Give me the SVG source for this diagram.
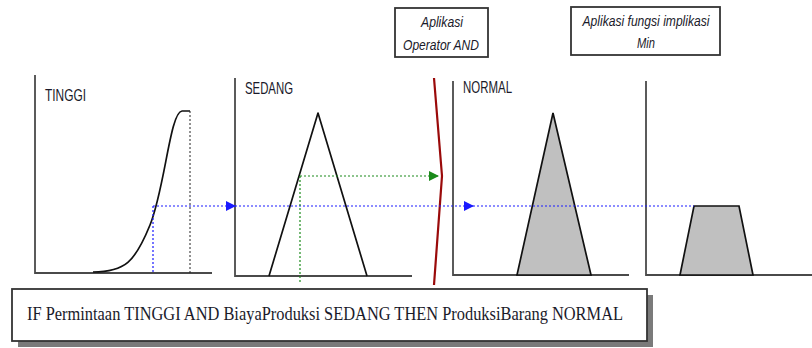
<svg xmlns="http://www.w3.org/2000/svg" width="812" height="348" viewBox="0 0 812 348">
  <defs>
    <marker id="arrowBlue" viewBox="0 0 10 10" refX="9" refY="5" markerWidth="10" markerHeight="10" markerUnits="userSpaceOnUse" orient="auto">
      <path d="M0,0 L10,5 L0,10 z" fill="#1a1aff"/>
    </marker>
    <marker id="arrowGreen" viewBox="0 0 10 10" refX="9" refY="5" markerWidth="10" markerHeight="10" markerUnits="userSpaceOnUse" orient="auto">
      <path d="M0,0 L10,5 L0,10 z" fill="#1a8a1a"/>
    </marker>
    <style>
      .axis { fill: none; stroke: #4a4a4a; stroke-width: 1.8; }
      .mf { fill: none; stroke: #111; stroke-width: 1.7; stroke-linejoin: round; }
      .mf-fill { fill: #c0c0c0; stroke: #111; stroke-width: 1.7; stroke-linejoin: miter; }
      .label { font-family: "Liberation Sans", Arial, sans-serif; font-size: 16.5px; fill: #1a1a2a; }
      .note { font-family: "Liberation Sans", Arial, sans-serif; font-size: 14.5px; font-style: italic; fill: #1a1a2a; text-anchor: middle; }
      .rule { font-family: "Liberation Serif", "Times New Roman", serif; font-size: 19px; fill: #1a1a2a; }
      .box { fill: #fff; stroke: #333; stroke-width: 1.8; }
      .blue { fill: none; stroke: #1a1aff; stroke-width: 1.2; stroke-dasharray: 2 2; }
      .green { fill: none; stroke: #1a8a1a; stroke-width: 1.2; stroke-dasharray: 2 2; }
      .guide { fill: none; stroke: #222; stroke-width: 1; stroke-dasharray: 2 2; }
    </style>
  </defs>

  <!-- Permintaan: TINGGI -->
  <g id="tinggi">
    <path class="axis" d="M35,75 L35,273 L212,273"/>
    <text class="label" x="45" y="101" textLength="41" lengthAdjust="spacingAndGlyphs">TINGGI</text>
    <path class="mf" d="M93,272 C125,272 135,262 150,225 S170,112 182,111 L190,111"/>
  </g>

  <!-- BiayaProduksi: SEDANG -->
  <g id="sedang">
    <path class="axis" d="M235,78 L235,276 L412,276"/>
    <text class="label" x="245" y="94" textLength="48" lengthAdjust="spacingAndGlyphs">SEDANG</text>
    <path class="mf" d="M269,276 L318,113 L367,276"/>
  </g>

  <!-- ProduksiBarang: NORMAL -->
  <g id="normal">
    <path class="axis" d="M453,81 L453,275 L629,275"/>
    <text class="label" x="463" y="93" textLength="49" lengthAdjust="spacingAndGlyphs">NORMAL</text>
    <path class="mf-fill" d="M517,275 L553,113 L591,275 z"/>
  </g>

  <!-- Implication result (clipped set) -->
  <g id="hasil">
    <path class="axis" d="M646,81 L646,275 L812,275"/>
    <path class="mf-fill" d="M680,275 L694,206 L739,206 L753,275 z"/>
  </g>

  <!-- AND operator divider -->
  <g id="operator-and">
    <polyline points="434,78 442,176 434,285" fill="none" stroke="#9a0a0a" stroke-width="2.2" stroke-linejoin="round"/>
  </g>

  <!-- Annotation boxes -->
  <g id="note-and">
    <rect class="box" x="395" y="8" width="93" height="49"/>
    <text class="note" x="442" y="27" textLength="42" lengthAdjust="spacingAndGlyphs">Aplikasi</text>
    <text class="note" x="441" y="50" textLength="76" lengthAdjust="spacingAndGlyphs">Operator AND</text>
  </g>
  <g id="note-min">
    <rect class="box" x="571" y="7" width="149" height="48"/>
    <text class="note" x="646" y="26" textLength="127" lengthAdjust="spacingAndGlyphs">Aplikasi fungsi implikasi</text>
    <text class="note" x="646" y="48" textLength="18" lengthAdjust="spacingAndGlyphs">Min</text>
  </g>

  <!-- Rule statement -->
  <g id="rule">
    <rect x="18" y="295" width="635" height="52" fill="#7a7a7a"/>
    <rect class="box" x="12" y="289" width="635" height="52"/>
    <text class="rule" x="27" y="320" textLength="596" lengthAdjust="spacingAndGlyphs">IF Permintaan TINGGI AND BiayaProduksi SEDANG THEN ProduksiBarang NORMAL</text>
  </g>

  <!-- Connectors: membership degree guides and arrows -->
  <g id="connectors">
    <line class="guide" x1="190" y1="111" x2="190" y2="273"/>
    <line class="blue" x1="153" y1="206" x2="153" y2="273"/>
    <line class="blue" x1="153" y1="206" x2="235" y2="206" marker-end="url(#arrowBlue)"/>
    <line class="blue" x1="235" y1="206" x2="473" y2="206" marker-end="url(#arrowBlue)"/>
    <line class="blue" x1="473" y1="206" x2="694" y2="206"/>
    <line class="green" x1="300" y1="176" x2="300" y2="282"/>
    <line class="green" x1="300" y1="176" x2="438" y2="176" marker-end="url(#arrowGreen)"/>
  </g>
</svg>
